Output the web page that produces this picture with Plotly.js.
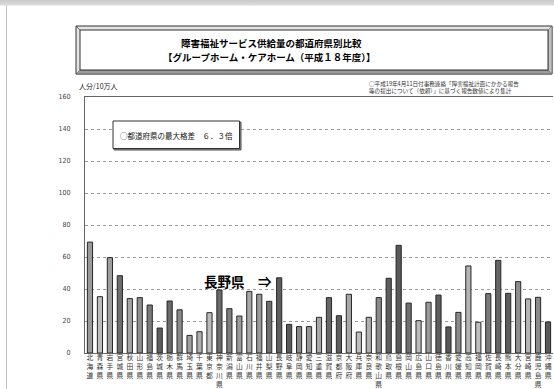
<!DOCTYPE html>
<html>
<head>
<meta charset="utf-8">
<script src="https://cdn.plot.ly/plotly-3.0.1.min.js"></script>
<style>
  html, body { margin: 0; padding: 0; }
  body {
    width: 554px; height: 389px; overflow: hidden;
    background:
      linear-gradient(to bottom, #c9c9c9 0px, #dcdcdc 5px, transparent 6px),
      linear-gradient(to right, transparent 6px, #c4c4c4 6px, #c4c4c4 7px, transparent 7px),
      #ffffff;
  }
  #chart { width: 554px; height: 389px; }
</style>
</head>
<body>
<div id="chart"></div>
<script>
// 都道府県（北から順）
const prefectures = [
  '北海道','青森県','岩手県','宮城県','秋田県','山形県','福島県','茨城県','栃木県','群馬県',
  '埼玉県','千葉県','東京都','神奈川県','新潟県','富山県','石川県','福井県','山梨県','長野県',
  '岐阜県','静岡県','愛知県','三重県','滋賀県','京都府','大阪府','兵庫県','奈良県','和歌山県',
  '鳥取県','島根県','岡山県','広島県','山口県','徳島県','香川県','愛媛県','高知県','福岡県',
  '佐賀県','長崎県','熊本県','大分県','宮崎県','鹿児島県','沖縄県'
];

// グループホーム・ケアホーム供給量（人分/10万人）
const supplyPer100k = [
  69.3, 35.2, 59.6, 48.3, 34.0, 34.6, 30.0, 15.6, 32.5, 27.0,
  11.0, 13.3, 25.2, 39.4, 27.7, 23.1, 38.5, 36.7, 32.3, 47.0,
  17.9, 16.5, 16.5, 22.3, 34.6, 23.3, 36.7, 13.1, 22.3, 34.6,
  46.7, 67.3, 31.2, 20.2, 31.7, 36.2, 16.3, 25.4, 54.4, 19.2,
  37.1, 57.9, 37.3, 44.6, 33.8, 34.8, 19.4
];

// y軸目盛
const yTicks = [0, 20, 40, 60, 80, 100, 120, 140, 160];

// 棒の塗り（グレー濃淡）
const barShades = [
  '#9a9a9a','#bdbdbd','#a0a0a0','#6e6e6e','#a5a5a5','#8f8f8f','#7a7a7a','#5e5e5e','#6a6a6a','#8a8a8a',
  '#a0a0a0','#b0b0b0','#bcbcbc','#6a6a6a','#7e7e7e','#9c9c9c','#a8a8a8','#9a9a9a','#707070','#5e5e5e',
  '#5a5a5a','#8a8a8a','#969696','#a8a8a8','#666666','#5e5e5e','#a8a8a8','#c0c0c0','#b0b0b0','#8a8a8a',
  '#5e5e5e','#5a5a5a','#707070','#bcbcbc','#9a9a9a','#5e5e5e','#5a5a5a','#8a8a8a','#b4b4b4','#c0c0c0',
  '#7a7a7a','#666666','#5e5e5e','#8e8e8e','#b4b4b4','#8a8a8a','#5a5a5a'
];

// 縦書きの軸ラベル
const verticalLabels = prefectures.map(p => p.split('').join('<br>'));

const JP = '"Noto Sans CJK JP", "Noto Sans CJK SC", sans-serif';

// プロット領域（px）から paper 座標への換算
const W = 554, H = 389;
const M = { l: 85, r: 1, t: 97, b: 36 };
const PW = W - M.l - M.r, PH = H - M.t - M.b;
const px = x => (x - M.l) / PW;
const py = y => (H - M.b - y) / PH;

const trace = {
  type: 'bar',
  x: prefectures,
  y: supplyPer100k,
  marker: { color: barShades, line: { color: '#262626', width: 1 } },
  hoverinfo: 'x+y'
};

const shapes = [
  // 見出し枠（立体枠）
  { type: 'rect', xref: 'paper', yref: 'paper', x0: px(76), x1: px(552), y0: py(74), y1: py(26),
    line: { color: '#333', width: 1 }, fillcolor: '#e4e4e4', layer: 'above' },
  { type: 'path', xref: 'paper', yref: 'paper', layer: 'above',
    path: `M ${px(76)} ${py(74)} L ${px(552)} ${py(74)} L ${px(548)} ${py(70)} L ${px(80)} ${py(70)} Z`,
    fillcolor: '#9c9c9c', line: { color: '#555', width: 0.6 } },
  { type: 'path', xref: 'paper', yref: 'paper', layer: 'above',
    path: `M ${px(552)} ${py(26)} L ${px(552)} ${py(74)} L ${px(548)} ${py(70)} L ${px(548)} ${py(30)} Z`,
    fillcolor: '#c2c2c2', line: { color: '#555', width: 0.6 } },
  { type: 'rect', xref: 'paper', yref: 'paper', x0: px(80), x1: px(548), y0: py(70), y1: py(30),
    line: { color: '#333', width: 1 }, fillcolor: '#ffffff', layer: 'above' },
  { type: 'line', xref: 'paper', yref: 'paper', x0: px(76), x1: px(80), y0: py(26), y1: py(30),
    line: { color: '#444', width: 0.8 }, layer: 'above' },
  // 最大格差の枠
  { type: 'rect', xref: 'paper', yref: 'paper', x0: px(114), x1: px(241), y0: py(150), y1: py(122),
    line: { color: '#555', width: 1 }, fillcolor: '#888', layer: 'above' },
  { type: 'rect', xref: 'paper', yref: 'paper', x0: px(113), x1: px(239.5), y0: py(148.5), y1: py(121),
    line: { color: '#333', width: 1 }, fillcolor: '#ffffff', layer: 'above' }
];

const annotations = [
  { xref: 'paper', yref: 'paper', x: px(271), y: py(43), xanchor: 'center', yanchor: 'middle', showarrow: false,
    text: '<b>障害福祉サービス供給量の都道府県別比較</b>', font: { family: JP, size: 9.5, color: '#000' } },
  { xref: 'paper', yref: 'paper', x: px(269), y: py(57), xanchor: 'center', yanchor: 'middle', showarrow: false,
    text: '<b>【グループホーム・ケアホーム（平成１８年度）】</b>', font: { family: JP, size: 9.5, color: '#000' } },
  { xref: 'paper', yref: 'paper', x: px(77), y: py(86), xanchor: 'left', yanchor: 'middle', showarrow: false,
    text: '人分/10万人', font: { family: JP, size: 7, color: '#222' } },
  { xref: 'paper', yref: 'paper', x: px(367), y: py(87), xanchor: 'left', yanchor: 'middle', showarrow: false,
    align: 'left',
    text: '○平成19年4月11日付事務連絡「障害福祉計画にかかる報告<br>等の提出について（依頼）」に基づく報告数値により集計',
    font: { family: JP, size: 5.6, color: '#333' } },
  { xref: 'paper', yref: 'paper', x: px(118), y: py(135), xanchor: 'left', yanchor: 'middle', showarrow: false,
    text: '○都道府県の最大格差　６．３倍', font: { family: JP, size: 7.5, color: '#111' } },
  { xref: 'paper', yref: 'paper', x: px(274), y: py(281), xanchor: 'right', yanchor: 'middle', showarrow: false,
    text: '<b>長野県　⇒</b>', font: { family: JP, size: 13.5, color: '#000' } }
];

const layout = {
  width: W, height: H,
  margin: M,
  paper_bgcolor: 'rgba(0,0,0,0)',
  plot_bgcolor: '#ffffff',
  showlegend: false,
  bargap: 0.48,
  xaxis: {
    type: 'category',
    tickvals: prefectures,
    ticktext: verticalLabels,
    tickangle: 0,
    tickfont: { family: JP, size: 6.8, color: '#333' },
    ticks: '', ticklabelstandoff: -2,
    showline: true, mirror: true, linecolor: '#666', linewidth: 1,
    showgrid: false
  },
  yaxis: {
    range: [0, 160],
    tickvals: yTicks,
    ticktext: yTicks.map(String),
    tickfont: { family: '"DejaVu Sans Condensed", "Liberation Sans Narrow", sans-serif', size: 7, color: '#444' },
    ticks: '', ticklabelstandoff: 12,
    showline: true, linecolor: '#666', linewidth: 1,
    showgrid: true, gridcolor: '#9a9a9a', griddash: 'dot', gridwidth: 1,
    zeroline: false
  },
  shapes: shapes,
  annotations: annotations
};

Plotly.newPlot('chart', [trace], layout, { displayModeBar: false, staticPlot: true });
</script>
</body>
</html>
